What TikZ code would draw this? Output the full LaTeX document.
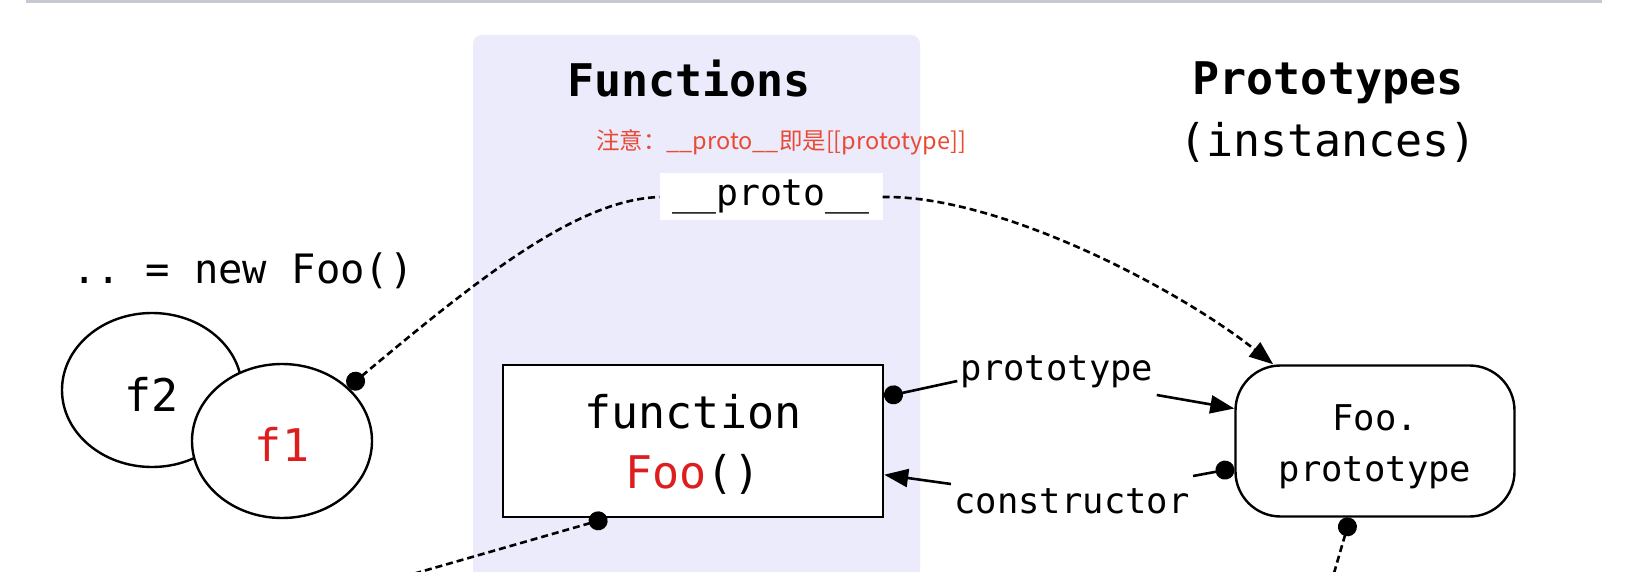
\documentclass[tikz,border=0pt]{standalone}
\usepackage{fontspec}
\setmonofont{DejaVu Sans Mono}
\newfontfamily\notefont{Noto Sans CJK SC}
\usetikzlibrary{arrows.meta,
                positioning,
                shapes.geometric
            }
\definecolor{lavender}{RGB}{235,235,251}
\definecolor{notered}{RGB}{234,74,52}
\definecolor{fred}{RGB}{222,30,30}
\definecolor{topbar}{RGB}{198,200,212}
\newcommand{\pxsize}[2]{\fontsize{#1}{#2}\selectfont}

\tikzset{
    objbox/.style={draw, line width=2.4pt, fill=white},
    dashlink/.style={line width=2.6pt, dash pattern=on 7pt off 4pt},
    solidlink/.style={line width=2.6pt},
    dotstart/.style={{Circle[length=19pt]}-},
    tipend/.style={-{Triangle[length=24pt,width=18pt]}}
}

\begin{document}
\begin{tikzpicture}[x=1pt, y=-1pt]
            \useasboundingbox (0,0) rectangle (1642,572);
            \clip (0,0) rectangle (1642,572);
            \fill[white] (0,0) rectangle (1642,572);
            \fill[topbar] (26,0) rectangle (1602,3);
            \fill[lavender, rounded corners=9pt] (473,35) rectangle (920,620);

            \node[font=\ttfamily\bfseries\pxsize{45}{62}] (functitle) at (689,79) {Functions};
            \node[font=\ttfamily\pxsize{45}{62}, align=center] (prototitle) at (1328,112) {\textbf{Prototypes}\\(instances)};
            \node[font=\notefont\pxsize{23.5}{23.5}, text=notered] (note) at (781,142) {注意：\_\_proto\_\_即是[[prototype]]};
            \node[fill=white, font=\ttfamily\pxsize{36.5}{36.5}, minimum width=223pt, minimum height=47pt, inner sep=0pt] (protolink) at (771,197) {\_\_proto\_\_};
            \node[font=\ttfamily\pxsize{40.5}{40.5}] (newfoo) at (243,271) {.. = new Foo()};

            \node[ellipse, objbox, minimum width=180pt, minimum height=154pt, text height=42pt, font=\ttfamily\pxsize{45}{45}] (f2) at (152,390) {f2};
            \node[ellipse, objbox, minimum width=180pt, minimum height=154pt, text height=40pt, font=\ttfamily\pxsize{45}{45}, text=fred] (f1) at (282,441) {f1};
            \node[objbox, minimum width=380pt, minimum height=152pt, align=center, text height=103pt, text depth=8pt, font=\ttfamily\pxsize{45}{60}] (fn) at (693,441) {function\\\textcolor{fred}{Foo}()};
            \node[objbox, rounded corners=45pt, minimum width=279pt, minimum height=151pt, align=center, text height=89pt, text depth=9pt, font=\ttfamily\pxsize{35.5}{51}] (fp) at (1375,441) {Foo.\\prototype};

            \node[font=\ttfamily\pxsize{35.5}{35.5}] (plbl) at (1057,372) {prototype};
            \node[font=\ttfamily\pxsize{35.5}{35.5}] (clbl) at (1072,501) {constructor};

            \coordinate (fnout) at (392,580);
            \coordinate (fpout) at (1332,580);

            \draw[dashlink, dotstart] (f1.39) .. controls (488,270) and (580,200) .. (protolink.west);
            \draw[dashlink, tipend] (protolink.east) .. controls (1000,195) and (1180,290) .. (fp.143);
            \draw[solidlink, dotstart] (fn.13) -- ([yshift=-9pt]plbl.west);
            \draw[solidlink, tipend] ([yshift=-23pt]plbl.east) -- (fp.167);
            \draw[solidlink, tipend] ([yshift=17pt]clbl.west) -- (fn.-10);
            \draw[solidlink, dotstart] (fp.191) -- ([yshift=25pt]clbl.east);
            \draw[dashlink, dotstart] (fn.-138) -- (fnout);
            \draw[dashlink, dotstart] (fp.252) -- (fpout);
        \end{tikzpicture}
\end{document}
